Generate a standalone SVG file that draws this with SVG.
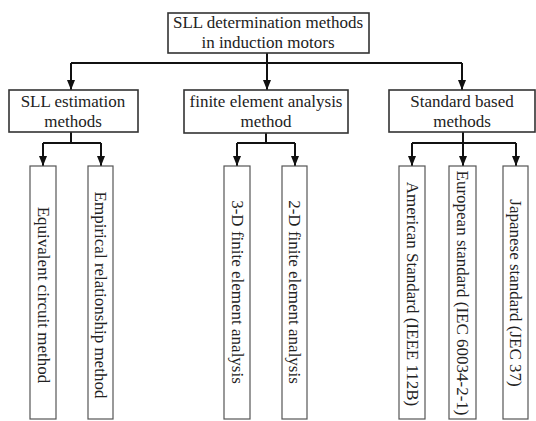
<svg xmlns="http://www.w3.org/2000/svg" width="536" height="421" viewBox="0 0 536 421">
<style>
  .box{fill:#fff;stroke:#333;stroke-width:1.6}
  .leaf{fill:#fff;stroke:#555;stroke-width:1.2}
  .t{font-family:"Liberation Serif","Times New Roman",serif;font-size:17px;fill:#222;text-anchor:middle}
  .v{font-family:"Liberation Serif","Times New Roman",serif;font-size:17px;fill:#222;text-anchor:middle;dominant-baseline:central}
  .c{fill:none;stroke:#111;stroke-width:2}
  .a{fill:none;stroke:#111;stroke-width:2;marker-end:url(#ah)}
</style>
<defs>
  <marker id="ah" viewBox="0 0 10 8" refX="10" refY="4" markerWidth="10" markerHeight="8" markerUnits="userSpaceOnUse" orient="auto">
    <path d="M0,0 L10,4 L0,8 z" fill="#111"/>
  </marker>
</defs>
<rect width="536" height="421" fill="#fff"/>
<g id="connectors">
  <path class="c" d="M267,53 V63 M71,63 H462"/>
  <path class="a" d="M71,63 V90"/>
  <path class="a" d="M267,63 V90"/>
  <path class="a" d="M462,63 V90"/>
  <path class="c" d="M71,132 V143 M43,143 H101"/>
  <path class="a" d="M43,143 V166"/>
  <path class="a" d="M101,143 V166"/>
  <path class="c" d="M266,133 V143 M237,143 H295"/>
  <path class="a" d="M237,143 V166"/>
  <path class="a" d="M295,143 V166"/>
  <path class="c" d="M463,132 V143 M412,143 H516"/>
  <path class="a" d="M412,143 V166"/>
  <path class="a" d="M463,143 V166"/>
  <path class="a" d="M516,143 V166"/>
</g>
<g id="root">
  <rect class="box" x="168" y="13" width="201" height="40"/>
  <text class="t" x="268" y="28">SLL determination methods</text>
  <text class="t" x="268" y="48">in induction motors</text>
</g>
<g id="sll-estimation">
  <rect class="box" x="9" y="90" width="129" height="42"/>
  <text class="t" x="73" y="107">SLL estimation</text>
  <text class="t" x="73" y="127">methods</text>
</g>
<g id="fea">
  <rect class="box" x="184" y="90" width="164" height="43"/>
  <text class="t" x="266" y="107">finite element analysis</text>
  <text class="t" x="266" y="127">method</text>
</g>
<g id="standard">
  <rect class="box" x="389" y="90" width="146" height="42"/>
  <text class="t" x="462" y="107">Standard based</text>
  <text class="t" x="462" y="127">methods</text>
</g>
<g id="equivalent">
  <rect class="leaf" x="30" y="166" width="26" height="253"/>
  <text class="v" transform="translate(43,295) rotate(90)">Equivalent circuit method</text>
</g>
<g id="empirical">
  <rect class="leaf" x="88" y="166" width="25" height="253"/>
  <text class="v" transform="translate(100.5,295) rotate(90)">Empirical relationship method</text>
</g>
<g id="fea3d">
  <rect class="leaf" x="224" y="166" width="26" height="253"/>
  <text class="v" transform="translate(237,292) rotate(90)">3-D finite element analysis</text>
</g>
<g id="fea2d">
  <rect class="leaf" x="282" y="166" width="25" height="253"/>
  <text class="v" transform="translate(294.5,292) rotate(90)">2-D finite element analysis</text>
</g>
<g id="american">
  <rect class="leaf" x="399" y="166" width="26" height="253"/>
  <text class="v" transform="translate(412,294) rotate(90)">American Standard (IEEE 112B)</text>
</g>
<g id="european">
  <rect class="leaf" x="449" y="166" width="27" height="253"/>
  <text class="v" transform="translate(462.5,293) rotate(90)">European standard (IEC 60034-2-1)</text>
</g>
<g id="japanese">
  <rect class="leaf" x="503" y="166" width="25" height="253"/>
  <text class="v" transform="translate(515.5,293) rotate(90)">Japanese standard (JEC 37)</text>
</g>
</svg>
